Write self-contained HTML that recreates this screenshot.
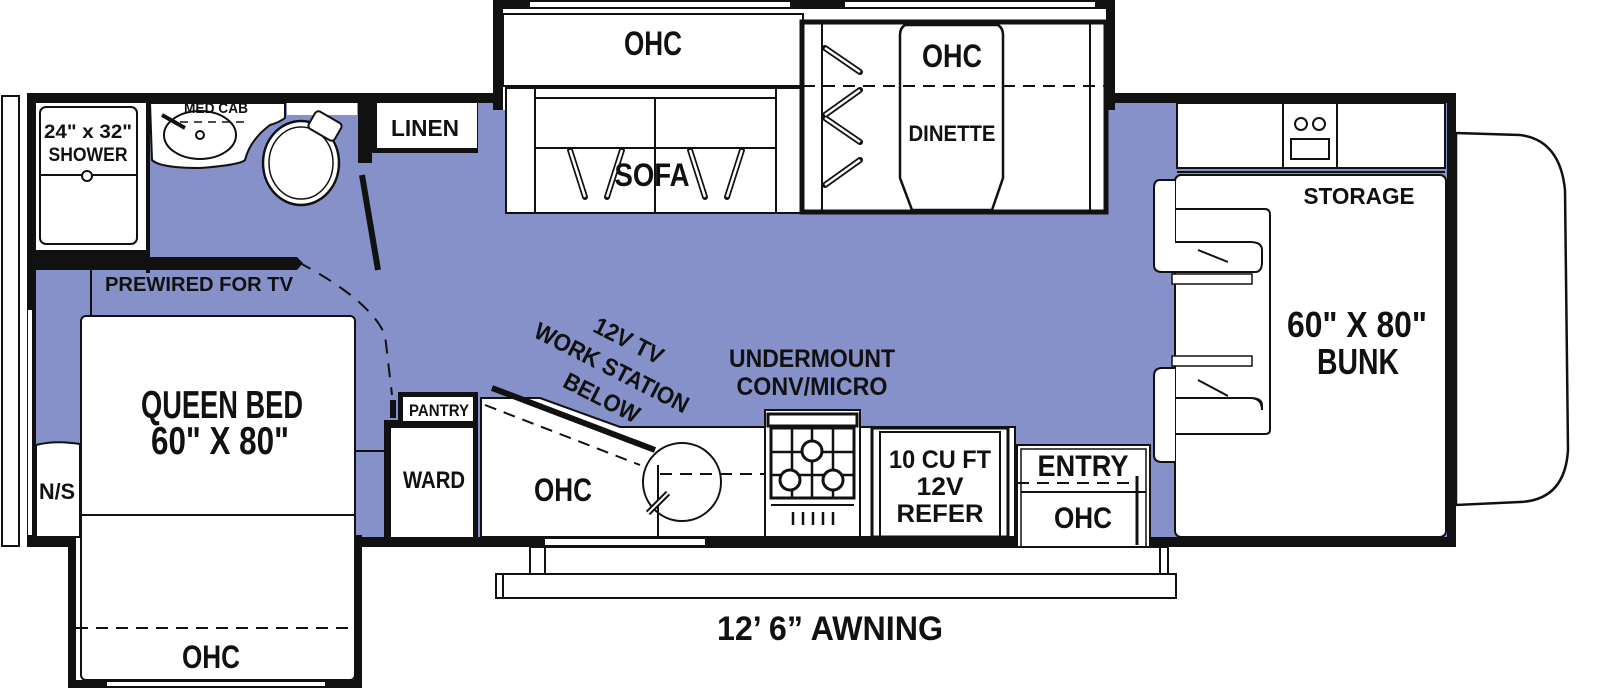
<!DOCTYPE html>
<html><head><meta charset="utf-8"><style>
html,body{margin:0;padding:0;background:#fff;}
svg{display:block;}
text{font-family:"Liberation Sans Narrow","Liberation Sans",sans-serif;font-weight:bold;fill:#111;}
</style></head><body>
<svg width="1600" height="689" viewBox="0 0 1600 689" xmlns="http://www.w3.org/2000/svg">
<!-- cab -->
<path d="M1456,133 L1520,135 Q1560,140 1565,190 L1568,450 Q1565,500 1520,502 L1456,505 Z" fill="#fff" stroke="#111" stroke-width="2.5"/>
<!-- main body -->
<rect x="27" y="93" width="1429" height="454" fill="#111"/>
<rect x="36" y="103" width="1411" height="434" fill="#8591c8"/>
<!-- left outer strip -->
<rect x="2" y="96" width="17" height="450" fill="#fff" stroke="#111" stroke-width="2"/>
<!-- top slideout -->
<rect x="493" y="0" width="622" height="110" fill="#111"/>
<rect x="503" y="9" width="603" height="101" fill="#fff"/>
<rect x="530" y="2" width="260" height="5" fill="#fff"/>
<rect x="845" y="2" width="250" height="5" fill="#fff"/>
<!-- sofa slide -->
<rect x="503" y="14" width="300" height="72" fill="#fff" stroke="#111" stroke-width="2"/>
<text x="653" y="55" font-size="34" text-anchor="middle" textLength="58" lengthAdjust="spacingAndGlyphs">OHC</text>
<rect x="506" y="88" width="300" height="125" fill="#fff" stroke="#111" stroke-width="2"/>
<line x1="535" y1="88" x2="535" y2="213" stroke="#111" stroke-width="2"/>
<line x1="776" y1="88" x2="776" y2="213" stroke="#111" stroke-width="2"/>
<line x1="535" y1="98" x2="776" y2="98" stroke="#111" stroke-width="2"/>
<line x1="535" y1="148" x2="776" y2="148" stroke="#111" stroke-width="2"/>
<line x1="655" y1="98" x2="655" y2="213" stroke="#111" stroke-width="2"/>
<g stroke="#111" stroke-width="6" stroke-linecap="round">
<line x1="570" y1="150" x2="585" y2="197"/><line x1="622" y1="150" x2="607" y2="197"/>
<line x1="690" y1="150" x2="705" y2="197"/><line x1="742" y1="150" x2="727" y2="197"/>
</g>
<g stroke="#fff" stroke-width="2.5">
<line x1="570" y1="150" x2="585" y2="197"/><line x1="622" y1="150" x2="607" y2="197"/>
<line x1="690" y1="150" x2="705" y2="197"/><line x1="742" y1="150" x2="727" y2="197"/>
</g>
<text x="652" y="186" font-size="32" text-anchor="middle" textLength="75" lengthAdjust="spacingAndGlyphs">SOFA</text>
<!-- dinette slide -->
<rect x="802" y="22" width="304" height="190" fill="#fff" stroke="#111" stroke-width="5"/>
<line x1="822" y1="22" x2="822" y2="212" stroke="#111" stroke-width="2"/>
<line x1="1090" y1="22" x2="1090" y2="212" stroke="#111" stroke-width="2"/>
<path d="M905,25 L998,25 Q1003,28 1003,35 L1003,178 L992,210 L912,210 L900,178 L900,35 Q900,28 905,25 Z" fill="#fff" stroke="#111" stroke-width="2.5"/>
<text x="952" y="67" font-size="32" text-anchor="middle" textLength="60" lengthAdjust="spacingAndGlyphs">OHC</text>
<text x="952" y="141" font-size="22" text-anchor="middle" textLength="87" lengthAdjust="spacingAndGlyphs">DINETTE</text>
<g stroke="#111" stroke-width="6" stroke-linecap="round">
<line x1="825" y1="48" x2="860" y2="72"/><line x1="825" y1="115" x2="860" y2="90"/>
<line x1="825" y1="118" x2="860" y2="142"/><line x1="825" y1="185" x2="860" y2="160"/>
</g>
<g stroke="#fff" stroke-width="2.5">
<line x1="825" y1="48" x2="860" y2="72"/><line x1="825" y1="115" x2="860" y2="90"/>
<line x1="825" y1="118" x2="860" y2="142"/><line x1="825" y1="185" x2="860" y2="160"/>
</g>
<line x1="503" y1="86" x2="1106" y2="86" stroke="#111" stroke-width="2" stroke-dasharray="12,8"/>
<!-- right kitchenette -->
<rect x="1177" y="103" width="268" height="65" fill="#fff" stroke="#111" stroke-width="2"/>
<line x1="1283" y1="103" x2="1283" y2="168" stroke="#111" stroke-width="2"/>
<line x1="1337" y1="103" x2="1337" y2="168" stroke="#111" stroke-width="2"/>
<circle cx="1301" cy="124" r="6" fill="none" stroke="#111" stroke-width="2"/>
<circle cx="1319" cy="124" r="6" fill="none" stroke="#111" stroke-width="2"/>
<rect x="1291" y="139" width="38" height="20" fill="none" stroke="#111" stroke-width="2"/>
<line x1="1177" y1="172" x2="1445" y2="172" stroke="#111" stroke-width="2"/>
<!-- bunk -->
<rect x="1175" y="175" width="271" height="362" rx="6" fill="#fff" stroke="#111" stroke-width="2"/>
<path d="M1175,180 L1160,180 Q1154,180 1154,188 L1154,265 Q1154,272 1162,272 L1255,272 Q1262,272 1262,262 L1262,250 Q1262,242 1250,242 L1175,242" fill="#fff" stroke="#111" stroke-width="2"/>
<path d="M1175,209 L1265,209 Q1270,209 1270,215 L1270,430 Q1270,434 1265,434 L1175,434" fill="none" stroke="#111" stroke-width="2"/>
<path d="M1175,368 L1162,368 Q1154,368 1154,376 L1154,455 Q1154,462 1162,462 L1175,462 M1175,398 L1250,398 Q1262,398 1262,405 L1262,410 Q1262,398 1250,398" fill="#fff" stroke="#111" stroke-width="2"/>
<rect x="1172" y="356" width="80" height="10" fill="#fff" stroke="#111" stroke-width="1.5"/>
<rect x="1172" y="274" width="80" height="10" fill="#fff" stroke="#111" stroke-width="1.5"/>
<line x1="1198" y1="250" x2="1228" y2="262" stroke="#111" stroke-width="2"/>
<line x1="1198" y1="380" x2="1228" y2="396" stroke="#111" stroke-width="2"/>
<text x="1359" y="204" font-size="23" text-anchor="middle" textLength="111" lengthAdjust="spacingAndGlyphs">STORAGE</text>
<text x="1357" y="337" font-size="36" text-anchor="middle" textLength="140" lengthAdjust="spacingAndGlyphs">60" X 80"</text>
<text x="1358" y="374" font-size="36" text-anchor="middle" textLength="82" lengthAdjust="spacingAndGlyphs">BUNK</text>
<!-- shower -->
<rect x="36" y="103" width="110" height="147" fill="#fff"/>
<rect x="40" y="107" width="97" height="137" rx="6" fill="#fff" stroke="#111" stroke-width="2"/>
<line x1="40" y1="175" x2="137" y2="175" stroke="#111" stroke-width="2"/>
<circle cx="87" cy="176" r="5" fill="#fff" stroke="#111" stroke-width="2"/>
<text x="88" y="138" font-size="19" text-anchor="middle" textLength="88" lengthAdjust="spacingAndGlyphs">24" x 32"</text>
<text x="88" y="161" font-size="19" text-anchor="middle" textLength="79" lengthAdjust="spacingAndGlyphs">SHOWER</text>
<rect x="146" y="103" width="4" height="170" fill="#111"/>
<!-- sink -->
<path d="M150,103 L285,103 L285,118 Q280,122 270,125 Q250,140 245,160 Q240,165 200,168 Q160,168 152,160 Z" fill="#fff" stroke="#111" stroke-width="2"/>
<ellipse cx="200" cy="135" rx="36" ry="24" fill="none" stroke="#111" stroke-width="2"/>
<circle cx="200" cy="135" r="4" fill="none" stroke="#111" stroke-width="2"/>
<line x1="162" y1="115" x2="185" y2="128" stroke="#111" stroke-width="4"/>
<text x="216" y="113" font-size="15" text-anchor="middle" font-weight="normal" textLength="64" lengthAdjust="spacingAndGlyphs">MED CAB</text>
<line x1="180" y1="122" x2="250" y2="122" stroke="#111" stroke-width="1.5" stroke-dasharray="8,6"/>
<rect x="287" y="103" width="70" height="12" fill="#fff"/>
<!-- toilet -->
<ellipse cx="301" cy="163" rx="38" ry="42" fill="#fff" stroke="#111" stroke-width="2.5"/>
<ellipse cx="301" cy="163" rx="32" ry="36" fill="none" stroke="#111" stroke-width="1.5"/>
<rect x="310" y="116" width="30" height="20" rx="4" transform="rotate(30 325 126)" fill="#fff" stroke="#111" stroke-width="2"/>
<!-- linen -->
<rect x="358" y="103" width="14" height="60" fill="#111"/>
<rect x="372" y="103" width="106" height="50" fill="#111"/>
<rect x="377" y="103" width="100" height="45" fill="#fff"/>
<text x="425" y="136" font-size="23" text-anchor="middle" textLength="68" lengthAdjust="spacingAndGlyphs">LINEN</text>
<line x1="362" y1="175" x2="378" y2="270" stroke="#111" stroke-width="6"/>
<!-- bedroom wall -->
<path d="M30,250 L150,250 L150,257 L297,257 L303,263 L297,270 L36,270 L36,262 Z" fill="#111"/>
<line x1="91" y1="270" x2="91" y2="316" stroke="#111" stroke-width="2"/>
<text x="105" y="291" font-size="20" textLength="188" lengthAdjust="spacingAndGlyphs">PREWIRED FOR TV</text>
<path d="M298,262 Q370,300 385,335 L392,395" fill="none" stroke="#111" stroke-width="2" stroke-dasharray="14,10"/>
<!-- bed slideout -->
<rect x="68" y="535" width="294" height="153" fill="#111"/>
<rect x="76" y="538" width="278" height="142" fill="#fff"/>
<rect x="107" y="682" width="218" height="4" fill="#fff"/>
<rect x="81" y="316" width="274" height="364" rx="5" fill="#fff" stroke="#111" stroke-width="2"/>
<line x1="81" y1="515" x2="355" y2="515" stroke="#111" stroke-width="2"/>
<line x1="76" y1="628" x2="355" y2="628" stroke="#111" stroke-width="2" stroke-dasharray="12,8"/>
<text x="222" y="418" font-size="39" text-anchor="middle" textLength="162" lengthAdjust="spacingAndGlyphs">QUEEN BED</text>
<text x="220" y="454" font-size="39" text-anchor="middle" textLength="138" lengthAdjust="spacingAndGlyphs">60" X 80"</text>
<text x="211" y="668" font-size="32" text-anchor="middle" textLength="58" lengthAdjust="spacingAndGlyphs">OHC</text>
<!-- N/S -->
<path d="M36,445 Q55,440 80,444 L80,537 L36,537 Z" fill="#fff" stroke="#111" stroke-width="2"/>
<text x="57" y="499" font-size="22" text-anchor="middle" textLength="36" lengthAdjust="spacingAndGlyphs">N/S</text>
<rect x="28" y="310" width="4" height="225" fill="#fff"/>
<line x1="355" y1="451" x2="387" y2="451" stroke="#111" stroke-width="2"/>
<!-- pantry/ward -->
<rect x="384" y="420" width="94" height="120" fill="#111"/>
<rect x="391" y="428" width="82" height="109" fill="#fff"/>
<rect x="398" y="392" width="80" height="30" fill="#111"/>
<rect x="403" y="397" width="70" height="24" fill="#fff"/>
<text x="439" y="416" font-size="17" text-anchor="middle" textLength="60" lengthAdjust="spacingAndGlyphs">PANTRY</text>
<text x="434" y="488" font-size="24" text-anchor="middle" textLength="62" lengthAdjust="spacingAndGlyphs">WARD</text>
<rect x="390" y="400" width="6" height="18" fill="#111"/>
<!-- galley counter -->
<path d="M481,398 L540,398 L620,427 L1015,427 L1015,537 L481,537 Z" fill="#fff" stroke="#111" stroke-width="2"/>
<line x1="492" y1="388" x2="655" y2="450" stroke="#111" stroke-width="6"/>
<line x1="485" y1="405" x2="640" y2="465" stroke="#111" stroke-width="2" stroke-dasharray="12,8"/>
<text x="563" y="501" font-size="32" text-anchor="middle" textLength="58" lengthAdjust="spacingAndGlyphs">OHC</text>
<circle cx="682" cy="482" r="39" fill="none" stroke="#111" stroke-width="2"/>
<line x1="658" y1="465" x2="658" y2="537" stroke="#111" stroke-width="2"/>
<line x1="648" y1="513" x2="668" y2="493" stroke="#111" stroke-width="6"/>
<line x1="648" y1="513" x2="668" y2="493" stroke="#fff" stroke-width="2"/>
<line x1="660" y1="474" x2="765" y2="474" stroke="#111" stroke-width="2" stroke-dasharray="12,8"/>
<text transform="translate(625,348) rotate(27)" font-size="24" text-anchor="middle" textLength="75" lengthAdjust="spacingAndGlyphs">12V TV</text>
<text transform="translate(608,375) rotate(27)" font-size="24" text-anchor="middle" textLength="170" lengthAdjust="spacingAndGlyphs">WORK STATION</text>
<text transform="translate(598,405) rotate(27)" font-size="24" text-anchor="middle" textLength="82" lengthAdjust="spacingAndGlyphs">BELOW</text>
<text x="812" y="367" font-size="25" text-anchor="middle" textLength="166" lengthAdjust="spacingAndGlyphs">UNDERMOUNT</text>
<text x="812" y="395" font-size="25" text-anchor="middle" textLength="151" lengthAdjust="spacingAndGlyphs">CONV/MICRO</text>
<!-- stove -->
<rect x="765" y="410" width="95" height="127" fill="#fff" stroke="#111" stroke-width="2"/>
<rect x="768" y="414" width="89" height="12" fill="#fff" stroke="#111" stroke-width="3"/>
<rect x="771" y="428" width="83" height="70" fill="none" stroke="#111" stroke-width="3"/>
<line x1="792" y1="428" x2="792" y2="498" stroke="#111" stroke-width="2.5"/>
<line x1="812" y1="428" x2="812" y2="498" stroke="#111" stroke-width="2.5"/>
<line x1="833" y1="428" x2="833" y2="498" stroke="#111" stroke-width="2.5"/>
<line x1="771" y1="452" x2="854" y2="452" stroke="#111" stroke-width="2.5"/>
<line x1="771" y1="475" x2="854" y2="475" stroke="#111" stroke-width="2.5"/>
<circle cx="812" cy="451" r="10" fill="#fff" stroke="#111" stroke-width="3"/>
<circle cx="790" cy="480" r="10" fill="#fff" stroke="#111" stroke-width="3"/>
<circle cx="833" cy="480" r="10" fill="#fff" stroke="#111" stroke-width="3"/>
<line x1="771" y1="505" x2="854" y2="505" stroke="#111" stroke-width="2"/>
<g stroke="#111" stroke-width="2.5"><line x1="793" y1="512" x2="793" y2="525"/><line x1="803" y1="512" x2="803" y2="525"/><line x1="813" y1="512" x2="813" y2="525"/><line x1="823" y1="512" x2="823" y2="525"/><line x1="833" y1="512" x2="833" y2="525"/></g>
<!-- refer -->
<rect x="872" y="428" width="136" height="109" fill="#fff" stroke="#111" stroke-width="3"/>
<rect x="880" y="432" width="120" height="105" fill="none" stroke="#111" stroke-width="2"/>
<text x="940" y="468" font-size="25" text-anchor="middle" textLength="102" lengthAdjust="spacingAndGlyphs">10 CU FT</text>
<text x="940" y="495" font-size="25" text-anchor="middle" textLength="47" lengthAdjust="spacingAndGlyphs">12V</text>
<text x="940" y="522" font-size="25" text-anchor="middle" textLength="87" lengthAdjust="spacingAndGlyphs">REFER</text>
<!-- entry -->
<rect x="1017" y="445" width="133" height="102" fill="#fff" stroke="#111" stroke-width="2"/>
<rect x="1021" y="449" width="125" height="98" fill="none" stroke="#111" stroke-width="1.5"/>
<line x1="1021" y1="492" x2="1146" y2="492" stroke="#111" stroke-width="2"/>
<line x1="1017" y1="483" x2="1135" y2="483" stroke="#111" stroke-width="2" stroke-dasharray="12,8"/>
<line x1="1137" y1="476" x2="1137" y2="545" stroke="#111" stroke-width="3"/>
<text x="1083" y="476" font-size="30" text-anchor="middle" textLength="91" lengthAdjust="spacingAndGlyphs">ENTRY</text>
<text x="1083" y="528" font-size="30" text-anchor="middle" textLength="58" lengthAdjust="spacingAndGlyphs">OHC</text>
<!-- bottom wall gaps -->
<rect x="545" y="539" width="160" height="6" fill="#fff"/>
<!-- awning -->
<rect x="530" y="547" width="638" height="27" fill="#fff" stroke="#111" stroke-width="2"/>
<rect x="496" y="574" width="680" height="24" fill="#fff" stroke="#111" stroke-width="2"/>
<line x1="545" y1="547" x2="545" y2="574" stroke="#111" stroke-width="2"/>
<line x1="1160" y1="547" x2="1160" y2="574" stroke="#111" stroke-width="2"/>
<line x1="503" y1="574" x2="503" y2="598" stroke="#111" stroke-width="2"/>
<text x="830" y="640" font-size="34" text-anchor="middle" textLength="226" lengthAdjust="spacingAndGlyphs">12’ 6” AWNING</text>
</svg>
</body></html>
